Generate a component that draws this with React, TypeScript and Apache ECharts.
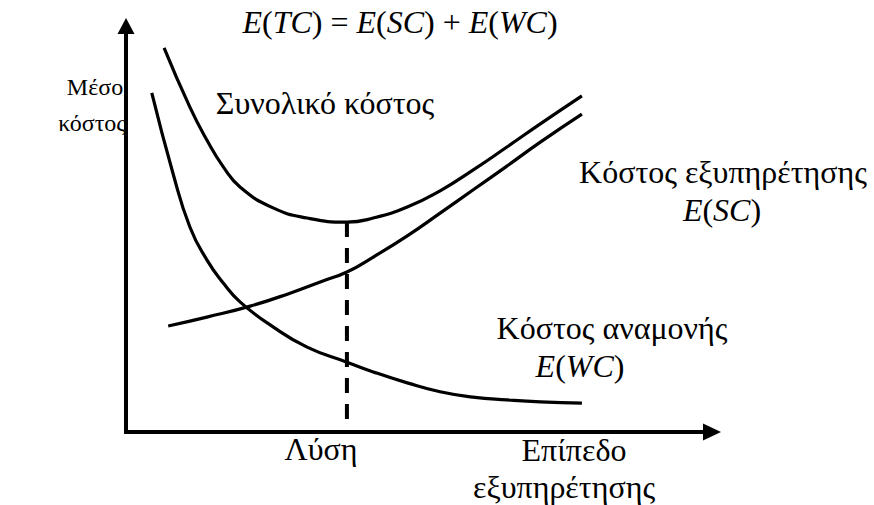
import React, { useEffect, useRef } from "react";
import * as echarts from "echarts";

// Service level (x) — abstract units 0..100; cost (y) — abstract units 0..100
const totalCost: [number, number][] = [
  [6.5, 94.6], [10.9, 80.0], [13.8, 71.9], [16.6, 65.3], [19.5, 60.3],
  [25.1, 55.2], [30.9, 52.7], [37.7, 51.7], [42.2, 52.7], [48.0, 55.4],
  [53.6, 59.4], [59.2, 64.5], [65.0, 70.2], [70.7, 75.9], [77.8, 82.8],
];
const waitingCost: [number, number][] = [
  [4.4, 83.5], [8.0, 63.8], [10.9, 50.5], [13.8, 42.4], [16.6, 36.7],
  [19.5, 32.0], [25.1, 25.9], [30.9, 20.9], [37.7, 17.2], [42.2, 14.8],
  [48.0, 12.1], [53.6, 9.9], [59.2, 8.6], [65.0, 7.9], [70.7, 7.4], [77.8, 7.1],
];
const serviceCost: [number, number][] = [
  [7.2, 26.1], [13.8, 28.3], [21.2, 31.0], [28.0, 34.2], [33.6, 37.2],
  [37.7, 39.4], [42.2, 43.1], [48.0, 48.3], [53.6, 53.9], [59.2, 59.6],
  [65.0, 65.5], [70.7, 71.4], [77.8, 78.3],
];
const solutionLine: [number, number][] = [[37.7, 51.7], [37.7, 0]];

const SERIF = "'Liberation Serif', 'Times New Roman', serif";

export default function App() {
  const ref = useRef<HTMLDivElement>(null);
  useEffect(() => {
    if (!ref.current) return;
    const chart = echarts.init(ref.current, undefined, { renderer: "svg" });
    const txt = (text: string, x: number, y: number, size = 32) => ({
      type: "text",
      x,
      y,
      style: {
        text,
        fill: "#000",
        fontFamily: SERIF,
        fontSize: size,
        align: "center",
        verticalAlign: "middle",
      },
    });
    const rich = {
      i: { fontStyle: "italic", fontFamily: SERIF, fontSize: 32, fill: "#000" },
      n: { fontFamily: SERIF, fontSize: 32, fill: "#000" },
    };
    const rtxt = (text: string, x: number, y: number) => ({
      type: "text",
      x,
      y,
      style: { text, rich, fill: "#000", fontFamily: SERIF, fontSize: 32, align: "center", verticalAlign: "middle" },
    });
    const lineCommon = {
      type: "line",
      smooth: true,
      showSymbol: false,
      symbol: "none",
      lineStyle: { color: "#000", width: 3.2 },
      silent: true,
    };
    chart.setOption({
      animation: false,
      backgroundColor: "#fff",
      grid: { left: 126, top: 26, right: 162, bottom: 73 },
      xAxis: {
        type: "value",
        min: 0,
        max: 100,
        axisLabel: { show: false },
        axisTick: { show: false },
        splitLine: { show: false },
        axisLine: {
          show: true,
          symbol: ["none", "triangle"],
          symbolSize: [17, 18],
          lineStyle: { color: "#000", width: 4, cap: "square" },
        },
      },
      yAxis: {
        type: "value",
        min: 0,
        max: 100,
        axisLabel: { show: false },
        axisTick: { show: false },
        splitLine: { show: false },
        axisLine: {
          show: true,
          symbol: ["none", "triangle"],
          symbolSize: [17, 16],
          lineStyle: { color: "#000", width: 4, cap: "square" },
        },
      },
      series: [
        { ...lineCommon, name: "Συνολικό κόστος", data: totalCost },
        { ...lineCommon, name: "Κόστος εξυπηρέτησης", data: serviceCost },
        { ...lineCommon, name: "Κόστος αναμονής", data: waitingCost },
        {
          type: "line",
          name: "Λύση",
          data: solutionLine,
          showSymbol: false,
          symbol: "none",
          silent: true,
          lineStyle: { color: "#000", width: 4, type: [15, 11] },
        },
      ],
      graphic: [
        rtxt("{i|E}{n|(}{i|TC}{n|) = }{i|E}{n|(}{i|SC}{n|) + }{i|E}{n|(}{i|WC}{n|)}", 400, 22),
        txt("Μέσο", 95, 87, 24),
        txt("κόστος", 92, 123, 24),
        txt("Συνολικό κόστος", 325, 103),
        txt("Κόστος εξυπηρέτησης", 723, 172),
        rtxt("{i|E}{n|(}{i|SC}{n|)}", 722, 210),
        txt("Κόστος αναμονής", 612, 328),
        rtxt("{i|E}{n|(}{i|WC}{n|)}", 580, 366),
        txt("Λύση", 321, 449),
        txt("Επίπεδο", 574, 450),
        txt("εξυπηρέτησης", 564, 487),
      ],
    });
    return () => chart.dispose();
  }, []);
  return <div ref={ref} style={{ width: 874, height: 505, position: "absolute", left: 0, top: 0 }} />;
}
